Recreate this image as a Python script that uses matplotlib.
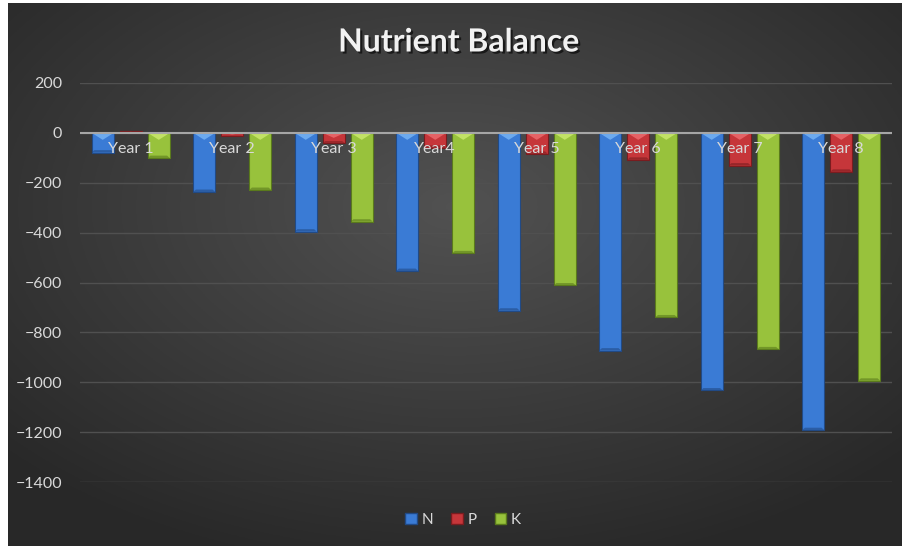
import numpy as np
import matplotlib.pyplot as plt
import matplotlib.patheffects as pe
from matplotlib.patches import Polygon, Rectangle

years = ["Year 1", "Year 2", "Year 3", "Year4", "Year 5", "Year 6", "Year 7", "Year 8"]
n_vals = [-79, -237, -396, -554, -713, -873, -1033, -1192]
p_vals = [8, -13, -40, -60, -84, -108, -131, -156]
k_vals = [-101, -229, -356, -483, -612, -740, -868, -994]
series = ["N", "P", "K"]
values = [n_vals, p_vals, k_vals]
colors = ["#3a7bd5", "#c6363a", "#98c23c"]
light = ["#79b6f6", "#ef6e70", "#cdeb70"]
dark = ["#214a86", "#7a1c1f", "#5a7a1c"]
yticks = list(range(-1400, 201, 200))

plt.rcParams["font.family"] = ["Lato", "DejaVu Sans"]
txt = "#d9d9d9"

fig = plt.figure(figsize=(9.02, 5.46), dpi=100, facecolor="white")

# dark radial background
bg = fig.add_axes([8 / 902, 0, 894 / 902, 543 / 546])
yy, xx = np.mgrid[-1:1:300j, -1:1:500j]
r = np.sqrt(xx ** 2 + (yy + 0.25) ** 2)
v = 0.32 - 0.16 * np.clip(r, 0, 1.35) / 1.35
bg.imshow(np.dstack([v, v, v]), aspect="auto", extent=[0, 1, 0, 1])
bg.set_axis_off()

ax = fig.add_axes([80 / 902, 64 / 546, 812 / 902, 399 / 546])
ax.patch.set_visible(False)
x = np.arange(len(years))
width = 0.217
offsets = [-0.276, 0, 0.276]

for s in range(3):
    xs = x + offsets[s]
    ax.bar(xs, values[s], width, color=colors[s], edgecolor=dark[s], linewidth=0.8, zorder=3)
    for xc, val in zip(xs, values[s]):
        d = min(28, abs(val) / 2) * np.sign(val)
        x0, x1 = xc - width / 2, xc + width / 2
        # light bevel at the zero end, darker rim at the far end
        ax.add_patch(Polygon([(x0, 0), (x1, 0), (xc, d)], closed=True,
                             facecolor=light[s], edgecolor="none", alpha=0.8, zorder=4))
        ax.add_patch(Polygon([(x0, val), (x1, val), (x1 - width * 0.12, val - d * 0.35),
                              (x0 + width * 0.12, val - d * 0.35)], closed=True,
                             facecolor=dark[s], edgecolor="none", alpha=0.6, zorder=4))

ax.axhline(0, color="#a6a6a6", lw=1.5, zorder=5)
for i, name in enumerate(years):
    ax.text(i, -63, name, ha="center", va="center", color=txt, fontsize=11.5, zorder=6)

ax.set_xlim(-0.5, len(years) - 0.5)
ax.set_ylim(-1400, 200)
ax.set_yticks(yticks)
ax.set_xticks([])
ax.yaxis.grid(True, color="#505050", lw=1)
ax.set_axisbelow(True)
ax.tick_params(axis="y", length=0, pad=13, labelsize=11.5, labelcolor=txt)
for sp in ax.spines.values():
    sp.set_visible(False)

handles = [Rectangle((0, 0), 1, 1, facecolor=colors[s], edgecolor=dark[s]) for s in range(3)]
leg = fig.legend(handles, series, loc="center", bbox_to_anchor=(463 / 902, 1 - 520 / 546),
                 ncol=3, frameon=False, fontsize=11, handlelength=0.75, handleheight=0.75,
                 handletextpad=0.3, columnspacing=1.2)
for t in leg.get_texts():
    t.set_color(txt)

fig.text(459 / 902, 1 - 42 / 546, "Nutrient Balance", ha="center", va="center",
         fontsize=23, fontweight="bold", color="#f2f2f2",
         path_effects=[pe.withSimplePatchShadow(offset=(1.5, -1.5), shadow_rgbFace="black", alpha=0.6)])

fig.savefig("out.png", dpi=100, facecolor="white")
